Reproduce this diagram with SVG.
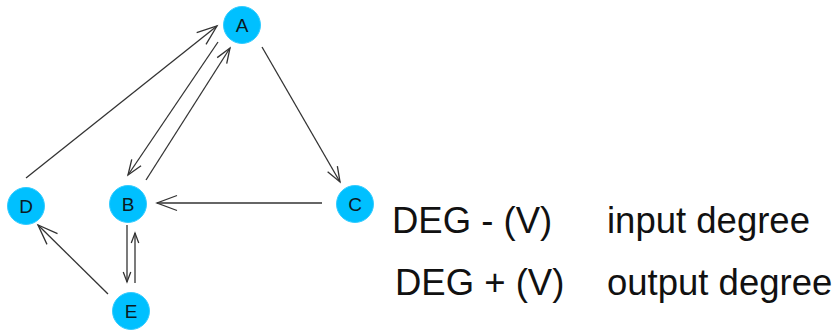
<svg xmlns="http://www.w3.org/2000/svg" width="835" height="331" viewBox="0 0 835 331">
<style>
.node circle{fill:#00C0FF;stroke:#33CCFF;stroke-width:1}
.node text{font-family:"Liberation Sans",Arial,sans-serif;font-size:19px;fill:#0b1a22;text-anchor:middle}
.edge{stroke:#333;stroke-width:1.3;fill:none}
.legend{font-family:"Liberation Sans",Arial,sans-serif;font-size:36.5px;fill:#111}
</style>
<defs>
<marker id="arrL" viewBox="0 0 24 20" refX="22" refY="10" markerWidth="24" markerHeight="20" markerUnits="userSpaceOnUse" orient="auto" overflow="visible">
<path d="M2,2.5 L22,10 L2,17.5" fill="none" stroke="#333" stroke-width="1.3"/>
</marker>
<marker id="arrM" viewBox="0 0 24 20" refX="22" refY="10" markerWidth="18" markerHeight="15" markerUnits="userSpaceOnUse" orient="auto" overflow="visible">
<path d="M2,2.5 L22,10 L2,17.5" fill="none" stroke="#333" stroke-width="1.75"/>
</marker>
<marker id="arrS" viewBox="0 0 24 20" refX="22" refY="10" markerWidth="12" markerHeight="10" markerUnits="userSpaceOnUse" orient="auto" overflow="visible">
<path d="M2,2.5 L22,10 L2,17.5" fill="none" stroke="#333" stroke-width="2.6"/>
</marker>
</defs>
<g id="connectors">
<line class="edge" x1="26" y1="178" x2="217" y2="26" marker-end="url(#arrL)"/>
<line class="edge" x1="218" y1="42" x2="128" y2="175" marker-end="url(#arrM)"/>
<line class="edge" x1="146" y1="180" x2="230" y2="48" marker-end="url(#arrM)"/>
<line class="edge" x1="262" y1="47" x2="340" y2="182" marker-end="url(#arrM)"/>
<line class="edge" x1="322" y1="203" x2="157" y2="203" marker-end="url(#arrL)"/>
<line class="edge" x1="127" y1="225" x2="127" y2="282" stroke="#555" stroke-width="2" marker-end="url(#arrS)"/>
<line class="edge" x1="135" y1="283" x2="135" y2="233" marker-end="url(#arrS)"/>
<line class="edge" x1="108" y1="294" x2="38" y2="225" marker-end="url(#arrL)"/>
</g>
<g id="node-A" class="node"><circle cx="242" cy="25" r="18.5"/><text x="242" y="32">A</text></g>
<g id="node-B" class="node"><circle cx="128" cy="204" r="18.5"/><text x="128" y="211">B</text></g>
<g id="node-C" class="node"><circle cx="355" cy="204" r="18.5"/><text x="355" y="211">C</text></g>
<g id="node-D" class="node"><circle cx="26" cy="206" r="18.5"/><text x="26" y="213">D</text></g>
<g id="node-E" class="node"><circle cx="131" cy="311" r="18.5"/><text x="131" y="318">E</text></g>
<g id="legend">
<text class="legend" x="392" y="233">DEG - (V)</text>
<text class="legend" x="607" y="233">input degree</text>
<text class="legend" x="395" y="295">DEG + (V)</text>
<text class="legend" x="607" y="295">output degree</text>
</g>
</svg>
